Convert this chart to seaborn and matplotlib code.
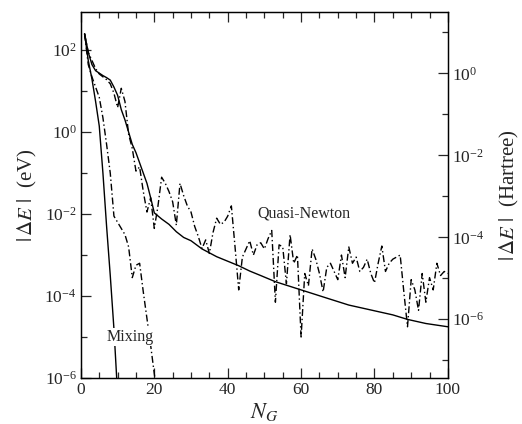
import numpy as np
import matplotlib
matplotlib.use('Agg')
import matplotlib.pyplot as plt
import seaborn as sns
from matplotlib.ticker import FixedLocator, NullFormatter, LogFormatterMathtext

# log10(|dE| / eV)
mix_solid_n = [1, 2, 3, 4, 5, 6, 7, 8, 9, 10]
mix_solid_log = [2.40, 1.75, 1.30, 0.75, 0.15, -1.00, -2.30, -3.50, -4.80, -6.40]

mix_dash_n = list(range(1, 22))
mix_dash_log = [2.40, 1.65, 1.35, 1.10, 0.85, 0.35, -0.30, -1.00, -2.05, -2.20,
                -2.35, -2.50, -2.80, -3.55, -3.25, -3.20, -3.90, -4.55, -5.20, -5.90,
                -6.50]

qn_solid_n = [1, 2, 3, 4, 5, 6, 7, 8, 9, 10, 11, 12, 13, 14, 15, 16, 17, 18, 19, 20,
              22, 24, 26, 28, 30, 33, 37, 40, 43, 46, 49, 53, 60, 67, 73, 79, 85, 89,
              94, 100]
qn_solid_log = [2.40, 1.95, 1.65, 1.50, 1.44, 1.38, 1.33, 1.27, 1.10, 0.90,
                0.55, 0.30, 0.00, -0.30, -0.50, -0.75, -1.00, -1.25, -1.60, -1.97,
                -2.12, -2.25, -2.43, -2.57, -2.65, -2.85, -3.04, -3.15, -3.26, -3.39,
                -3.50, -3.65, -3.85, -4.05, -4.22, -4.34, -4.46, -4.57, -4.67, -4.75]

qn_dash_n = list(range(1, 101))
qn_dash_log = [2.40, 1.95, 1.75, 1.55, 1.42, 1.35, 1.28, 1.18, 0.95, 0.60,
               1.07, 0.75, -0.05, -0.40, -0.95, -0.85, -1.45, -1.95, -1.60, -2.35,
               -1.80, -1.10, -1.25, -1.45, -1.70, -2.27, -1.25, -1.55, -1.80, -1.95,
               -2.30, -2.55, -2.84, -2.63, -2.96, -2.45, -2.10, -2.25, -2.20, -2.05,
               -1.80, -2.80, -3.85, -3.05, -2.85, -2.65, -3.00, -2.75, -2.70, -2.85,
               -2.60, -2.40, -4.15, -2.75, -2.80, -3.70, -2.50, -3.20, -3.00, -5.00,
               -3.45, -3.75, -2.85, -3.10, -3.45, -3.90, -3.30, -3.20, -3.40, -3.60,
               -3.00, -3.55, -2.80, -3.20, -3.05, -3.40, -3.30, -3.10, -3.45, -3.68,
               -3.20, -2.78, -3.40, -3.20, -3.10, -3.05, -3.00, -3.90, -4.75, -3.60,
               -3.85, -4.35, -3.45, -4.15, -3.55, -3.85, -3.20, -3.50, -3.40, -3.45]

EV_PER_HARTREE = 27.2114
YMIN, YMAX = 1e-6, 10 ** 2.93

sns.set_style("ticks")
plt.rcParams['font.family'] = ['Liberation Serif', 'DejaVu Serif']
plt.rcParams['mathtext.fontset'] = 'stix'
plt.rcParams['xtick.direction'] = 'in'
plt.rcParams['ytick.direction'] = 'in'

fig = plt.figure(figsize=(5.22, 4.24), dpi=100)
ax = fig.add_axes([0.155, 0.1085, 0.703, 0.863])

dashdot = (5, 2, 1, 2)
lw = 1.0
sns.lineplot(x=mix_solid_n, y=np.power(10.0, mix_solid_log), ax=ax, color='black', lw=lw)
sns.lineplot(x=mix_dash_n, y=np.power(10.0, mix_dash_log), ax=ax, color='black', lw=lw,
             dashes=False).lines[-1].set_dashes(dashdot)
sns.lineplot(x=qn_solid_n, y=np.power(10.0, qn_solid_log), ax=ax, color='black', lw=lw)
sns.lineplot(x=qn_dash_n, y=np.power(10.0, qn_dash_log), ax=ax, color='black', lw=lw,
             dashes=False).lines[-1].set_dashes(dashdot)

ax.set_yscale('log')
ax.set_xlim(0, 100)
ax.set_ylim(YMIN, YMAX)

ax.xaxis.set_major_locator(FixedLocator([0, 20, 40, 60, 80, 100]))
ax.xaxis.set_minor_locator(FixedLocator(np.arange(0, 101, 5)))
ax.yaxis.set_major_locator(FixedLocator([1e-6, 1e-4, 1e-2, 1e0, 1e2]))
ax.yaxis.set_minor_locator(FixedLocator([1e-5, 1e-3, 1e-1, 1e1]))
ax.yaxis.set_major_formatter(LogFormatterMathtext())
ax.yaxis.set_minor_formatter(NullFormatter())
ax.tick_params(which='major', length=7.5, width=0.9, labelsize=12.5, top=True, pad=3)
ax.tick_params(which='minor', length=4, width=0.9, top=True)
ax.tick_params(axis='y', which='both', right=False)

ax2 = ax.twinx()
ax2.set_yscale('log')
ax2.set_ylim(YMIN / EV_PER_HARTREE, YMAX / EV_PER_HARTREE)
ax2.yaxis.set_major_locator(FixedLocator([1e-6, 1e-4, 1e-2, 1e0]))
ax2.yaxis.set_minor_locator(FixedLocator([1e-7, 1e-5, 1e-3, 1e-1, 1e1]))
ax2.yaxis.set_major_formatter(LogFormatterMathtext())
ax2.yaxis.set_minor_formatter(NullFormatter())
ax2.tick_params(which='major', length=7.5, width=0.9, labelsize=12.5, pad=3)
ax2.tick_params(which='minor', length=4, width=0.9)

for a in (ax, ax2):
    for s in a.spines.values():
        s.set_linewidth(0.9)
        s.set_color('black')

ax.set_xlabel(r'$N_G$', fontsize=16, labelpad=2)
ax.set_ylabel(r'$|\,\Delta E\ |$  (eV)', fontsize=15, labelpad=4)
ax2.set_ylabel(r'$|\,\Delta E\ |$  (Hartree)', fontsize=15, labelpad=10)

ax.text(48, 10 ** -1.98, 'Quasi-Newton', fontsize=11.5, va='center', ha='left')
ax.text(7.0, 10 ** -5.0, 'Mixing', fontsize=11.5, va='center', ha='left',
        bbox=dict(facecolor='white', edgecolor='none', pad=1))

fig.savefig('out.png', dpi=100)
